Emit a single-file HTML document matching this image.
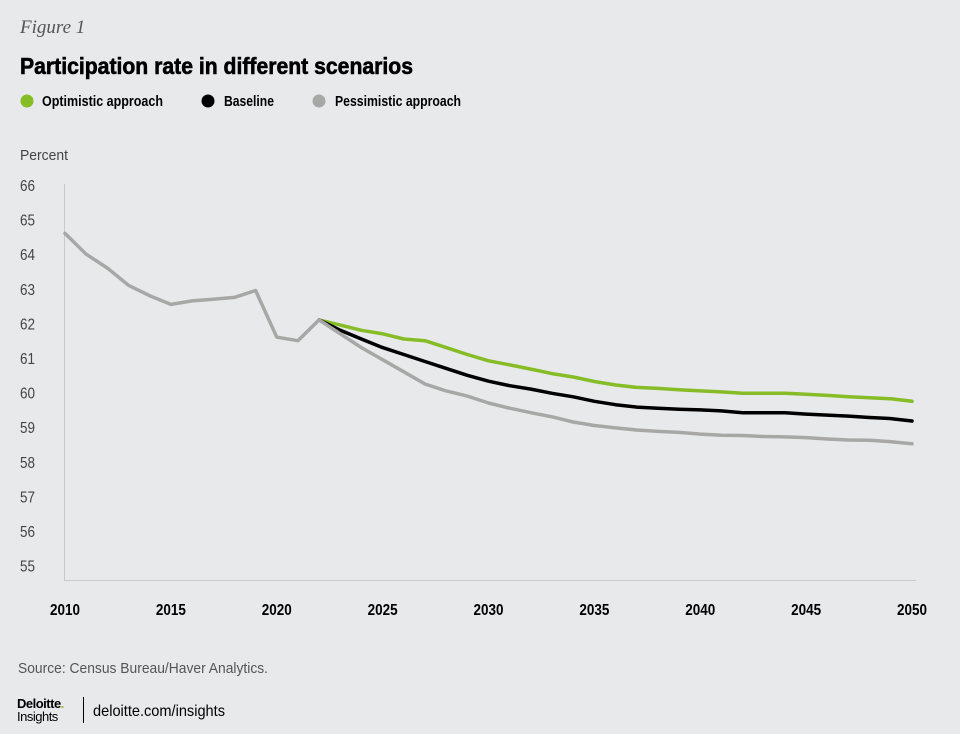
<!DOCTYPE html>
<html><head><meta charset="utf-8"><style>
html,body{margin:0;padding:0;background:#e8e9eb;}
body{width:960px;height:734px;overflow:hidden;position:relative;font-family:"Liberation Sans",sans-serif;}
.a{position:absolute;white-space:nowrap;}
</style></head><body>
<div class="a" style="left:20px;top:17px;font-family:'Liberation Serif',serif;font-style:italic;font-size:19px;color:#555;">Figure 1</div>
<svg width="960" height="734" style="position:absolute;left:0;top:0" xmlns="http://www.w3.org/2000/svg">
<text x="20" y="74" font-size="23" font-weight="bold" textLength="393" lengthAdjust="spacingAndGlyphs" stroke="#000" stroke-width="0.6">Participation rate in different scenarios</text>
<g font-weight="bold" font-size="14.5">
<circle cx="27" cy="101" r="6.5" fill="#86bc25"/><text x="42" y="106" textLength="121" lengthAdjust="spacingAndGlyphs">Optimistic approach</text>
<circle cx="208" cy="101" r="6.5" fill="#000"/><text x="224" y="106" textLength="50" lengthAdjust="spacingAndGlyphs">Baseline</text>
<circle cx="319" cy="101" r="6.5" fill="#a7a8a6"/><text x="335" y="106" textLength="126" lengthAdjust="spacingAndGlyphs">Pessimistic approach</text>
</g>
<text x="20" y="160" font-size="14.5" fill="#444" textLength="48" lengthAdjust="spacingAndGlyphs">Percent</text>
<g font-size="15.5" fill="#444" id="yl"></g>
<line x1="64.5" y1="184" x2="64.5" y2="580" stroke="#c8c9cb" stroke-width="1"/>
<line x1="64" y1="580.5" x2="916" y2="580.5" stroke="#c8c9cb" stroke-width="1"/>
<g font-size="15.5" font-weight="bold" fill="#000" id="xl"></g>
<g id="ln" fill="none" stroke-width="3.5" stroke-linejoin="round" stroke-linecap="round"></g>
<text x="18" y="673" font-size="14.5" fill="#555" textLength="250" lengthAdjust="spacingAndGlyphs">Source: Census Bureau/Haver Analytics.</text>
<text x="17" y="708" font-size="13" font-weight="bold" fill="#000" letter-spacing="-0.5">Deloitte<tspan fill="#86bc25">.</tspan></text>
<text x="17" y="721" font-size="13" fill="#000" letter-spacing="-0.5">Insights</text>
<line x1="83.5" y1="697" x2="83.5" y2="723" stroke="#000" stroke-width="1"/>
<text x="93" y="716" font-size="16" fill="#000" textLength="132" lengthAdjust="spacingAndGlyphs">deloitte.com/insights</text>
</svg>
<script>
var NS="http://www.w3.org/2000/svg";
function X(y){return 65+(y-2010)*21.175;}
function Y(v){return 185+(66-v)*34.6;}
var yl=document.getElementById('yl');
for(var v=55;v<=66;v++){var t=document.createElementNS(NS,'text');t.setAttribute('x',20);t.setAttribute('y',Y(v)+6);t.setAttribute('textLength',15);t.setAttribute('lengthAdjust','spacingAndGlyphs');t.textContent=v;yl.appendChild(t);}
var xl=document.getElementById('xl');
for(var y=2010;y<=2050;y+=5){var t=document.createElementNS(NS,'text');t.setAttribute('x',X(y)-15);t.setAttribute('y',615);t.setAttribute('textLength',30);t.setAttribute('lengthAdjust','spacingAndGlyphs');t.textContent=y;xl.appendChild(t);}
var hist=[64.6,64.0,63.6,63.1,62.8,62.55,62.65,62.7,62.75,62.95,61.6,61.5,62.1];
var pes=[61.7,61.3,60.95,60.6,60.25,60.05,59.9,59.7,59.55,59.42,59.3,59.15,59.05,58.98,58.92,58.88,58.85,58.8,58.77,58.76,58.73,58.72,58.7,58.66,58.63,58.62,58.58,58.52];
var bas=[61.8,61.55,61.3,61.1,60.9,60.7,60.5,60.33,60.2,60.1,59.98,59.88,59.75,59.65,59.58,59.55,59.52,59.5,59.47,59.42,59.42,59.42,59.38,59.35,59.32,59.28,59.25,59.18];
var opt=[61.95,61.8,61.7,61.55,61.5,61.3,61.1,60.92,60.8,60.68,60.55,60.45,60.32,60.22,60.15,60.12,60.08,60.05,60.02,59.98,59.98,59.98,59.95,59.92,59.88,59.85,59.82,59.75];
function line(arr,start,col){var p=[];for(var i=0;i<arr.length;i++)p.push(X(start+i).toFixed(1)+','+Y(arr[i]).toFixed(1));
var e=document.createElementNS(NS,'polyline');e.setAttribute('points',p.join(' '));e.setAttribute('stroke',col);document.getElementById('ln').appendChild(e);}
line([62.1].concat(opt),2022,'#86bc25');
line([62.1].concat(bas),2022,'#000');
line(hist.concat(pes),2010,'#a7a8a6');
</script>
</body></html>
